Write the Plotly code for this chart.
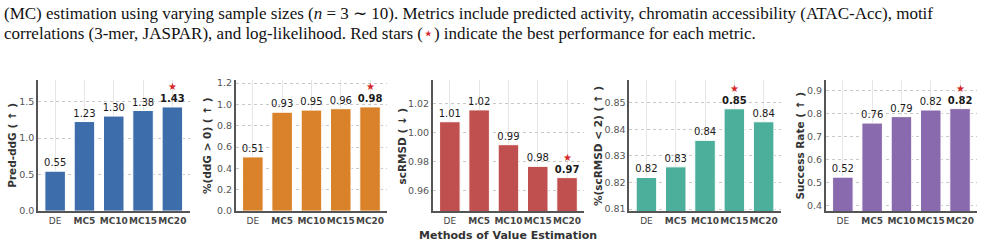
import plotly.graph_objects as go

# ---------------- data ----------------
methods = ["DE", "MC5", "MC10", "MC15", "MC20"]
pred_ddg = [0.547, 1.227, 1.302, 1.378, 1.427]
pct_ddg_pos = [0.508, 0.927, 0.947, 0.960, 0.977]
scrmsd = [1.0074, 1.0156, 0.9915, 0.9765, 0.9687]
pct_scrmsd_lt2 = [0.8219, 0.8259, 0.8359, 0.8478, 0.8429]
success_rate = [0.523, 0.759, 0.787, 0.816, 0.822]

metric_titles = ["Pred-ddG ( ↑ )", "%(ddG > 0) ( ↑ )", "scRMSD ( ↓ )",
                 "%(scRMSD < 2) ( ↑ )", "Success Rate ( ↑ )"]
higher_is_better = [True, True, False, True, True]
series = [pred_ddg, pct_ddg_pos, scrmsd, pct_scrmsd_lt2, success_rate]

# ---------------- styling / layout ----------------
colors = ["#3d6eab", "#d98229", "#c0504f", "#4caf9b", "#8a6aae"]
y_ranges = [[0, 1.79], [0, 1.225], [0.9455, 1.036], [0.8092, 0.8585], [0.3747, 0.945]]
y_dticks = [0.5, 0.2, 0.02, 0.01, 0.1]
y_formats = [".1f", ".1f", ".2f", ".2f", ".1f"]
panel_lefts = [38, 235.7, 432.7, 629.3, 825.7]
title_offsets = [26, 28.5, 31, 32, 26]
panel_w = 151.5
W, H = 986, 250
top_px, bot_px = 80, 215

fig = go.Figure()
annotations = []
tick_text = [m if m == "DE" else f"<b>{m}</b>" for m in methods]

for i, vals in enumerate(series):
    n = i + 1
    xa = "x" if n == 1 else f"x{n}"
    ya = "y" if n == 1 else f"y{n}"
    best = vals.index(max(vals)) if higher_is_better[i] else vals.index(min(vals))
    labels = [f"<b>{v:.2f}</b>" if j == best else f"{v:.2f}" for j, v in enumerate(vals)]
    fig.add_trace(go.Bar(
        x=methods, y=vals, xaxis=xa, yaxis=ya, width=0.7,
        marker=dict(color=colors[i], line=dict(color="white", width=1)),
        text=labels, textposition="outside", constraintext="none",
        textfont=dict(family="DejaVu Sans", size=10, color="#1a1a1a"),
        cliponaxis=False, showlegend=False,
    ))

    l = panel_lefts[i] / W
    r = (panel_lefts[i] + panel_w) / W
    xkey = "xaxis" if n == 1 else f"xaxis{n}"
    ykey = "yaxis" if n == 1 else f"yaxis{n}"
    fig.layout[xkey] = dict(
        domain=[l, r], anchor=ya, type="category", range=[-0.585, 4.585],
        tickvals=methods, ticktext=tick_text, tickangle=0,
        tickfont=dict(family="DejaVu Sans", size=9, color="#444"),
        showgrid=True, gridcolor="#e6e6e6", gridwidth=0.8,
        showline=True, linecolor="#555", linewidth=2, ticks="",
        layer="below traces", fixedrange=True,
    )
    fig.layout[ykey] = dict(
        domain=[1 - bot_px / H, 1 - top_px / H], anchor=xa,
        range=y_ranges[i], dtick=y_dticks[i], tick0=0, tickformat=y_formats[i],
        tickfont=dict(family="DejaVu Sans", size=9.5, color="#555"),
        showgrid=True, gridcolor="#c8c8c8", gridwidth=0.8, griddash="dot",
        showline=True, linecolor="#555", linewidth=1.5, ticks="",
        ticklabelstandoff=0, zeroline=False, layer="below traces", fixedrange=True,
    )
    # y-axis title
    annotations.append(dict(
        text=f"<b>{metric_titles[i]}</b>", xref="paper", yref="paper",
        x=l, y=1 - (top_px + bot_px) / 2 / H, xshift=-title_offsets[i],
        xanchor="center", yanchor="middle", textangle=-90, showarrow=False,
        font=dict(family="DejaVu Sans", size=10.5, color="#333"),
    ))
    # red star over the best bar
    annotations.append(dict(
        text="★", xref=xa, yref=ya, x=methods[best], y=vals[best], yshift=20,
        xanchor="center", yanchor="middle", showarrow=False,
        font=dict(family="DejaVu Sans", size=10, color="#d62728"),
    ))

# shared x title
annotations.append(dict(
    text="<b>Methods of Value Estimation</b>", xref="paper", yref="paper",
    x=(panel_lefts[2] + panel_w / 2) / W, y=1 - 240 / H, xanchor="center", yanchor="middle",
    showarrow=False, font=dict(family="DejaVu Sans", size=11, color="#333"),
))

# caption text above the figure
caption_lines = [
    "(MC) estimation using varying sample sizes (<i>n</i> = 3 ∼ 10). Metrics include predicted activity, chromatin accessibility (ATAC-Acc), motif",
    "correlations (3-mer, JASPAR), and log-likelihood. Red stars (<span style='color:#d62728'>⋆</span>) indicate the best performance for each metric.",
]
caption_y = [10.5, 31.5]
for txt, yc in zip(caption_lines, caption_y):
    annotations.append(dict(
        text=txt, xref="paper", yref="paper", x=2 / W, y=1 - yc / H,
        xanchor="left", yanchor="middle", showarrow=False,
        font=dict(family="Liberation Serif, Times New Roman, serif", size=17, color="#111"),
    ))

fig.update_layout(
    width=W, height=H, margin=dict(l=0, r=0, t=0, b=0),
    paper_bgcolor="white", plot_bgcolor="white",
    annotations=annotations,
)

fig.write_html("out.html")
